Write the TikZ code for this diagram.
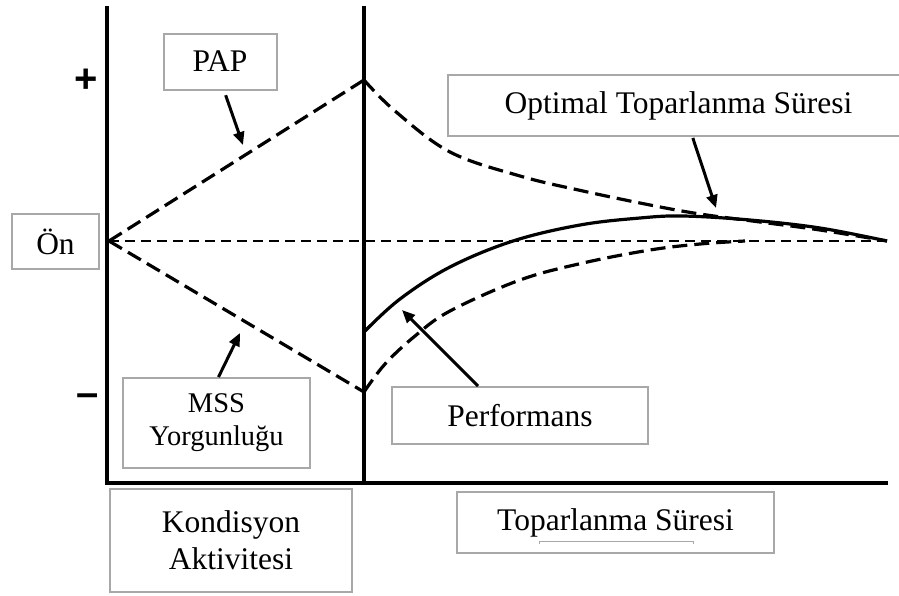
\documentclass[tikz,border=0pt]{standalone}
\usepackage{fontspec}
\setmainfont{Liberation Serif}
\newfontfamily\symfont{Liberation Sans}
\usetikzlibrary{arrows.meta}
\definecolor{boxgray}{HTML}{A8A8A8}
\tikzset{
  axisline/.style={line width=3.3pt, black},
  bigdash/.style={line width=3.2pt, dash pattern=on 15pt off 7pt},
  middash/.style={line width=2.8pt, dash pattern=on 10pt off 6pt},
  perfline/.style={line width=3.2pt},
  lbl/.style={draw=boxgray, line width=2pt, align=center, inner sep=0pt,
    font=\fontsize{31.5}{37}\selectfont},
  smalllbl/.style={lbl, font=\fontsize{28.5}{33}\selectfont},
  arr/.style={line width=3pt, -{Triangle[length=13pt,width=11pt]}},
  signmark/.style={inner sep=0pt, font=\symfont\bfseries\fontsize{40}{40}\selectfont}
}
\begin{document}
\begin{tikzpicture}[x=1pt,y=-1pt]
\useasboundingbox (0,0) rectangle (899,595);
% axes
\coordinate (o) at (107,483);
\coordinate (ytop) at (107,6);
\coordinate (mbot) at (364,483);
\coordinate (mtop) at (364,6);
\coordinate (xend) at (888,483);
\draw[axisline] (ytop) -- (o) -- (xend);
\draw[axisline] (mtop) -- (mbot);
% key points
\coordinate (start) at (109,241);
\coordinate (peak) at (364,80);
\coordinate (low) at (364,392);
\coordinate (fin) at (887,241);
% baseline
\draw[middash] (start) -- (fin);
% PAP and fatigue lines
\draw[bigdash] (start) -- (peak);
\draw[bigdash] (start) -- (low);
% upper dashed curve
\draw[bigdash] plot[smooth, tension=0.6] coordinates {(364,80) (395,111) (450,152) (520,176) (583,191) (650,205) (700,214) (760,222) (820,230) (887,241)};
% lower dashed curve
\draw[bigdash] plot[smooth, tension=0.6] coordinates {(364,392) (385,364) (415,336) (450,311) (520,280) (583,263) (650,250) (700,244) (745,241)};
% performance curve
\draw[perfline] plot[smooth, tension=0.6] coordinates {(365,331) (400,299) (450,267) (513,241) (580,225) (640,218) (683,216) (750,220) (820,228) (887,241)};
% signs
\node[signmark] (plus) at (86,81) {+};
\node[signmark] (minus) at (87.5,400) {–};
% labels
\node[lbl, minimum width=87pt, minimum height=55pt] (on) at (55.5,241.5) {Ön};
\node[lbl, minimum width=113pt, minimum height=56pt] (pap) at (220,61.5) {PAP};
\node[lbl, minimum width=461pt, minimum height=61pt] (opt) at (678.5,105.5) {Optimal Toparlanma Süresi};
\node[smalllbl, minimum width=187pt, minimum height=90pt] (mss) at (216.5,423) {MSS\\Yorgunluğu};
\node[lbl, minimum width=256pt, minimum height=57pt] (perf) at (520,415.5) {Performans};
\node[lbl, minimum width=242pt, minimum height=103pt] (kond) at (231,540.5) {Kondisyon\\Aktivitesi};
\node[lbl, minimum width=317pt, minimum height=61pt] (topar) at (615.5,522.5) {Toparlanma Süresi};
% small gray underline in the Toparlanma box
\draw[boxgray, line width=1pt] (539,544) -- (539,541) -- (693,541) -- (693,544);
% arrows
\coordinate (papTip) at (243,145);
\coordinate (optTip) at (716,208);
\coordinate (mssTip) at (240,333);
\coordinate (perfTip) at (402,310);
\draw[arr, shorten <=5pt] ([xshift=4pt]pap.south) -- (papTip);
\draw[arr, shorten <=1pt] ([xshift=14pt]opt.south) -- (optTip);
\draw[arr] ([xshift=2pt]mss.north) -- (mssTip);
\draw[arr] ([xshift=-42pt]perf.north) -- (perfTip);
\end{tikzpicture}
\end{document}
